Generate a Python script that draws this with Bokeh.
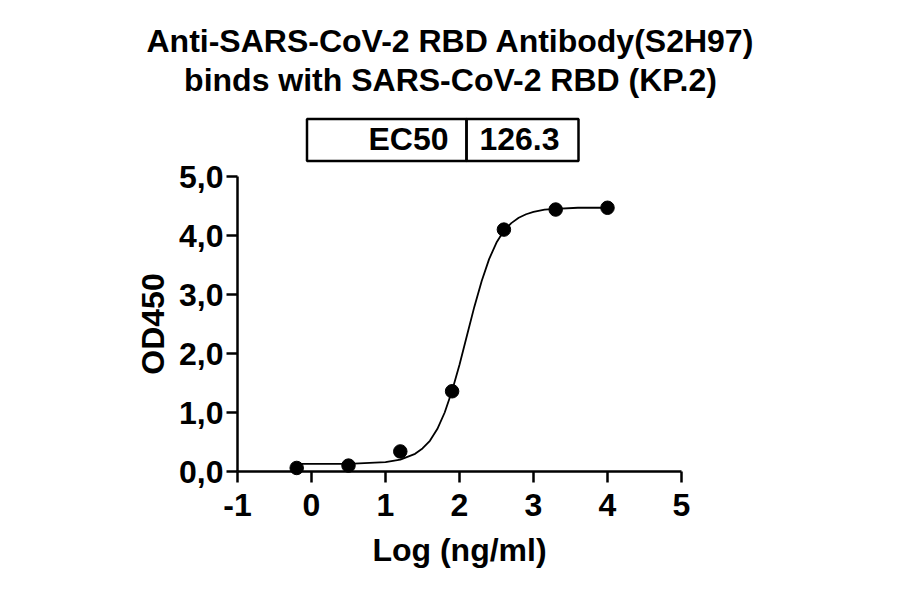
from bokeh.plotting import figure
from bokeh.models import Range1d, FixedTicker, CustomJSTickFormatter
from bokeh.core.properties import value
from bokeh.embed import file_html
from bokeh.resources import INLINE

# ---- data ----
title_lines = ["Anti-SARS-CoV-2 RBD Antibody(S2H97)", "binds with SARS-CoV-2 RBD (KP.2)"]
table_key = "EC50"
table_val = "126.3"
x_label = "Log (ng/ml)"
y_label = "OD450"

x_log = [-0.2, 0.5, 1.2, 1.9, 2.6, 3.3, 4.0]
od450 = [0.06, 0.10, 0.34, 1.36, 4.10, 4.44, 4.47]

curve_x = [-0.2, 0.0, 0.5, 1.0, 1.2, 1.4, 1.5, 1.6, 1.7, 1.8, 1.9, 2.0, 2.1, 2.2,
           2.3, 2.4, 2.5, 2.6, 2.7, 2.8, 2.9, 3.0, 3.15, 3.3, 3.6, 4.0]
curve_y = [0.13, 0.13, 0.13, 0.16, 0.20, 0.30, 0.39, 0.52, 0.72, 1.00, 1.37, 1.81, 2.30, 2.79,
           3.23, 3.60, 3.88, 4.08, 4.21, 4.30, 4.36, 4.40, 4.44, 4.45, 4.47, 4.47]

x_ticks = [-1, 0, 1, 2, 3, 4, 5]
y_ticks = [0, 1, 2, 3, 4, 5]
x_bounds = (-1, 5)
y_bounds = (0, 5)

# ---- layout (page pixels) ----
FONT = "Liberation Sans"
W, H = 884, 578
OFF = 0                      # canvas origin offset on the page
PX_XA, PX_XB = 237, 681      # page x of x=-1 and x=5
PY_YA, PY_YB = 471, 176      # page y of y=0 and y=5
kx = (x_bounds[1] - x_bounds[0]) / (PX_XB - PX_XA)
ky = (y_bounds[1] - y_bounds[0]) / (PY_YA - PY_YB)
XS = x_bounds[0] - (PX_XA - OFF) * kx
XE = XS + W * kx
YE = y_bounds[1] + (PY_YB - OFF) * ky
YS = YE - H * ky


def dx(px):
    return XS + (px - OFF) * kx


def dy(py):
    return YE - (py - OFF) * ky


p = figure(width=W, height=H, x_range=Range1d(XS, XE), y_range=Range1d(YS, YE),
           output_backend="svg", toolbar_location=None, min_border=0)
p.grid.visible = False
p.outline_line_color = None

p.line(curve_x, curve_y, line_color="black", line_width=1.8)
p.scatter(x_log, od450, size=13.5, fill_color="black", line_color="black")

for ax in (p.xaxis[0], p.yaxis[0]):
    ax.axis_line_width = 2.5
    ax.axis_line_color = "black"
    ax.major_tick_line_width = 2.5
    ax.major_tick_line_color = "black"
    ax.major_tick_in = 0
    ax.major_tick_out = 11
    ax.minor_tick_line_color = None
    ax.major_label_text_font = FONT
    ax.major_label_text_font_style = "bold"
    ax.major_label_text_font_size = "32px"
    ax.major_label_text_color = "black"
    ax.axis_label_text_font = FONT
    ax.axis_label_text_font_style = "bold"
    ax.axis_label_text_font_size = "32px"
    ax.axis_label_text_color = "black"

p.xaxis.fixed_location = 0
p.yaxis.fixed_location = -1
p.xaxis.bounds = x_bounds
p.yaxis.bounds = y_bounds
p.xaxis.ticker = FixedTicker(ticks=x_ticks)
p.yaxis.ticker = FixedTicker(ticks=y_ticks)
p.xaxis.axis_label = x_label
p.yaxis.axis_label = y_label
p.xaxis.major_label_standoff = 11
p.xaxis.axis_label_standoff = 13
p.yaxis.major_label_standoff = 3
p.yaxis.axis_label_standoff = 5
p.xaxis.formatter = CustomJSTickFormatter(code="return tick.toFixed(0);")
p.yaxis.formatter = CustomJSTickFormatter(code="return tick.toFixed(1).replace('.', ',');")

TXT = dict(text_font=value(FONT), text_font_style="bold", text_font_size="32px",
           text_baseline="middle", text_color="black")

# ---- title ----
p.text(x=[dx(450), dx(450)], y=[dy(40.8), dy(79)], text=title_lines, text_align="center", **TXT)

# ---- EC50 table ----
t_top, t_bot, t_left, t_mid, t_right = 118.5, 160.5, 306.5, 466, 578
p.quad(left=[dx(t_left), dx(t_mid)], right=[dx(t_mid), dx(t_right)],
       top=[dy(t_top)] * 2, bottom=[dy(t_bot)] * 2,
       fill_color=None, line_color="black", line_width=2.5)
p.text(x=[dx(448)], y=[dy(138)], text=[table_key], text_align="right", **TXT)
p.text(x=[dx(519)], y=[dy(138)], text=[table_val], text_align="center", **TXT)

open("out.html", "w").write(file_html(p, INLINE))
